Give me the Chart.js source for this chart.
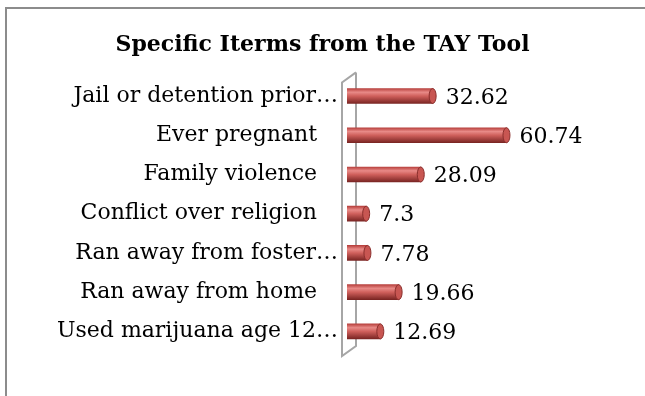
<!DOCTYPE html>
<html>
<head>
<meta charset="utf-8">
<script src="https://cdn.jsdelivr.net/npm/chart.js@4"></script>
<style>
    body { margin: 0; background: #fff; }
    #frame { position: absolute; left: 5px; top: 7px; width: 650px; height: 400px;
             border-left: 2px solid #8c8c8c; border-top: 2px solid #8c8c8c; }
    #wrap { position: absolute; left: 0; top: 0; width: 645px; height: 396px; }
</style>
</head>
<body>
<div id="frame"></div>
<div id="wrap"><canvas id="barChart" width="645" height="396"></canvas></div>
<script>
var labels = [
    'Jail or detention prior…',
    'Ever pregnant',
    'Family violence',
    'Conflict over religion',
    'Ran away from foster…',
    'Ran away from home',
    'Used marijuana age 12…'
];
var values = [32.62, 60.74, 28.09, 7.3, 7.78, 19.66, 12.69];

var BAR_H = 15;

// gradient for the cylinder look, built around each bar's centre
function barFill(ctx) {
    var chart = ctx.chart;
    var y = chart.scales.y ? chart.scales.y.getPixelForValue(ctx.dataIndex) : null;
    if (y == null || isNaN(y)) return '#c0504d';
    var g = chart.ctx.createLinearGradient(0, y - BAR_H / 2, 0, y + BAR_H / 2);
    g.addColorStop(0, '#b8413e');
    g.addColorStop(0.25, '#e88a87');
    g.addColorStop(0.5, '#d0605c');
    g.addColorStop(1, '#7a2523');
    return g;
}

var wallPlugin = {
    id: 'wall',
    beforeDatasetsDraw: function (chart) {
        var c = chart.ctx, a = chart.chartArea;
        var x0 = chart.scales.x.getPixelForValue(0);
        c.save();
        c.strokeStyle = '#a6a6a6';
        c.lineWidth = 2;
        c.beginPath();
        c.moveTo(x0 + 9, a.top - 4);
        c.lineTo(x0 - 5, a.top + 6);
        c.lineTo(x0 - 5, a.bottom + 5);
        c.lineTo(x0 + 9, a.bottom - 5);
        c.lineTo(x0 + 9, a.top - 4);
        c.stroke();
        c.restore();
    }
};

var capPlugin = {
    id: 'caps',
    afterDatasetsDraw: function (chart) {
        var c = chart.ctx;
        var meta = chart.getDatasetMeta(0);
        c.save();
        meta.data.forEach(function (el, i) {
            c.beginPath();
            c.ellipse(el.x, el.y, 3.5, el.height / 2, 0, 0, Math.PI * 2);
            c.fillStyle = '#c85652';
            c.fill();
            c.strokeStyle = '#8a2e2c';
            c.lineWidth = 1;
            c.stroke();

            c.fillStyle = '#000';
            c.font = '22px "DejaVu Serif"';
            c.textAlign = 'left';
            c.textBaseline = 'middle';
            c.fillText(String(values[i]), el.x + 13, el.y + 2);
        });
        c.restore();
    }
};

var barChartCanvas = document.getElementById('barChart').getContext('2d');

new Chart(barChartCanvas, {
    type: 'bar',
    data: {
        labels: labels,
        datasets: [{
            data: values,
            backgroundColor: barFill,
            borderWidth: 0,
            barThickness: BAR_H
        }]
    },
    options: {
        indexAxis: 'y',
        responsive: false,
        animation: false,
        layout: { padding: { top: 0, right: 0, bottom: 45, left: 0 } },
        plugins: {
            legend: { display: false },
            tooltip: { enabled: false },
            title: {
                display: true,
                text: 'Specific Iterms from the TAY Tool',
                color: '#000',
                font: { family: 'DejaVu Serif', size: 22, weight: 'bold' },
                padding: { top: 32, bottom: 18 }
            }
        },
        scales: {
            x: { display: false, min: 0, max: 113.5 },
            y: {
                grid: { display: false },
                border: { display: false },
                ticks: {
                    color: '#000',
                    padding: 1,
                    font: { family: 'DejaVu Serif', size: 22 },
                    callback: function (v, i) {
                        var t = labels[i];
                        // untruncated labels sit a little left of the truncated ones
                        return t.slice(-1) === '…' ? t : t + '\u00a0\u00a0\u00a0';
                    }
                },
                afterFit: function (scale) { scale.width = 347; }
            }
        }
    },
    plugins: [wallPlugin, capPlugin]
});
</script>
</body>
</html>
